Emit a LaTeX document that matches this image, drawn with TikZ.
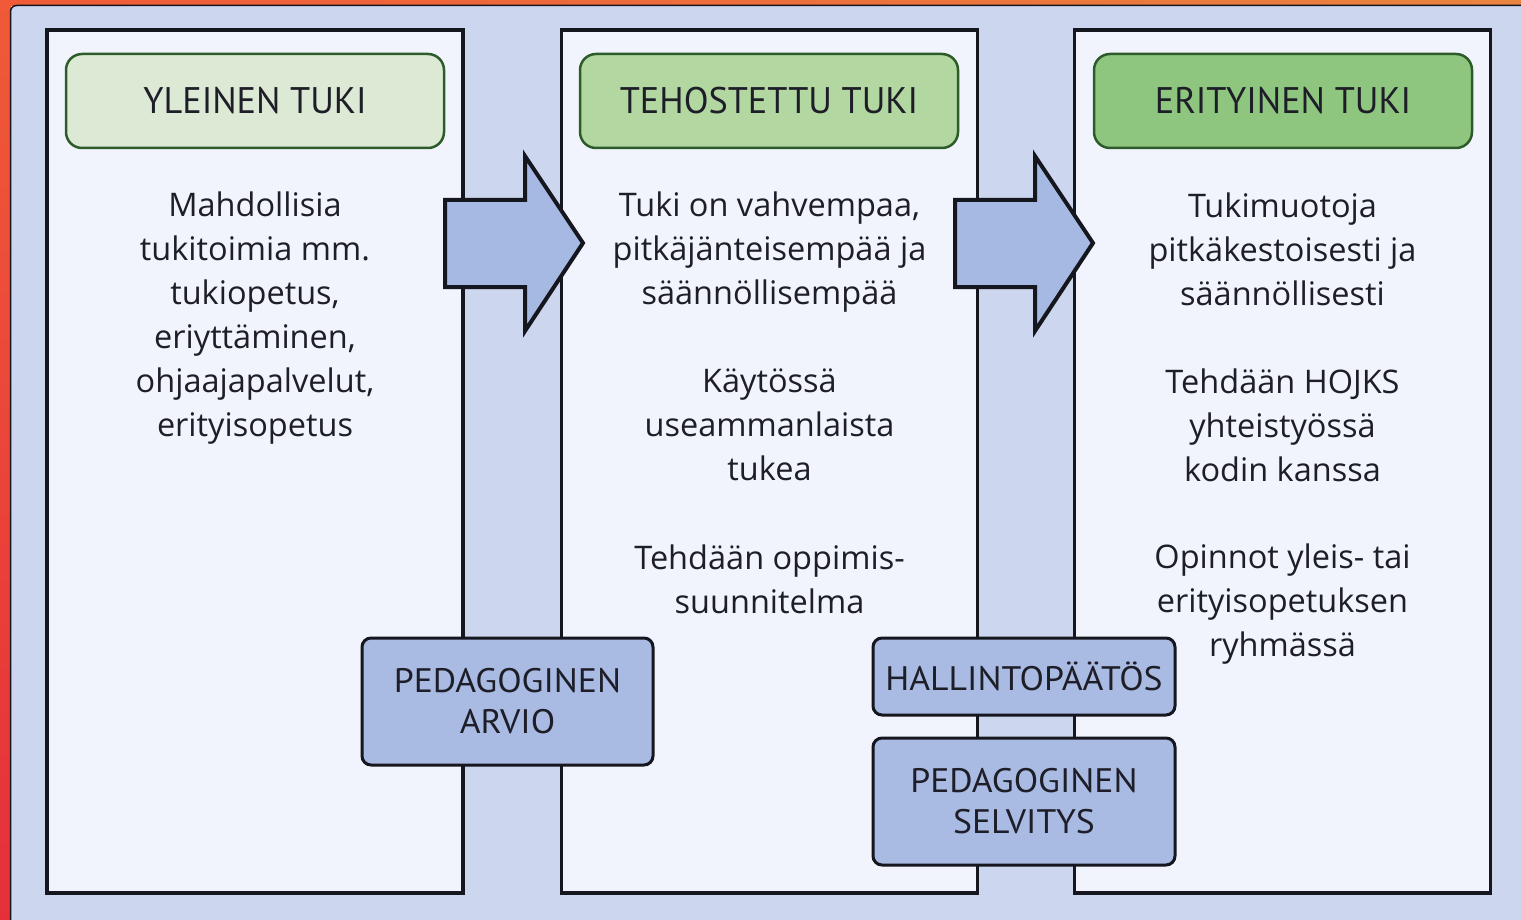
\documentclass[tikz,border=0pt]{standalone}
\usepackage{fontspec}
\setmainfont{Open Sans}
\newfontfamily\hdfont[FakeStretch=0.98]{PT Sans}
\newfontfamily\bxfont[FakeStretch=1.05]{PT Sans}
\definecolor{bgblue}{HTML}{CCD6EE}
\definecolor{panelfill}{HTML}{F1F4FC}
\definecolor{arrowfill}{HTML}{A6B9E2}
\definecolor{boxfill}{HTML}{A9BBE3}
\definecolor{gA}{HTML}{DCEAD5}
\definecolor{gB}{HTML}{B2D7A0}
\definecolor{gC}{HTML}{8EC57F}
\definecolor{gborder}{HTML}{2E5B2A}
\definecolor{ink}{HTML}{1E1E28}
\definecolor{edge}{HTML}{16161F}
\definecolor{stripA}{HTML}{F05A38}
\definecolor{stripB}{HTML}{E5303A}
\definecolor{stripC}{HTML}{E9843F}
\begin{document}
\begin{tikzpicture}[x=1pt,y=-1pt,
  panel/.style={draw=edge, fill=panelfill, line width=3.5pt, minimum width=416pt, minimum height=863pt, inner sep=0pt},
  hdr/.style={draw=gborder, line width=2.5pt, rounded corners=16pt, minimum width=378pt, minimum height=94pt, inner sep=0pt, text=ink, font=\hdfont\fontsize{37}{40}\selectfont},
  body/.style={align=center, inner sep=0pt, text=ink, font=\fontsize{32.5}{44}\selectfont},
  bbox/.style={draw=edge, fill=boxfill, line width=3pt, rounded corners=9pt, inner sep=0pt, align=center, text=ink, font=\bxfont\fontsize{34}{41}\selectfont},
  bigarrow/.style={draw=edge, fill=arrowfill, line width=4pt, line join=miter}
]
\useasboundingbox (0,0) rectangle (1521,920);
% outer border and background
\shade[left color=stripA, right color=stripC] (0,0) rectangle (1521,6);
\shade[top color=stripA, bottom color=stripB] (0,0) rectangle (11,920);
\draw[fill=bgblue, draw=edge, line width=1.5pt, rounded corners=6pt] (10.5,5.5) rectangle (1540,940);

% panels
\node[panel] (p1) at (255,461.5) {};
\node[panel] (p2) at (769.5,461.5) {};
\node[panel] (p3) at (1282.5,461.5) {};

% headers
\node[hdr, fill=gA] (h1) at (255,101) {YLEINEN TUKI};
\node[hdr, fill=gB] (h2) at (769,101) {TEHOSTETTU TUKI};
\node[hdr, fill=gC] (h3) at (1283,101) {ERITYINEN TUKI};

% arrows
\draw[bigarrow] (445,200) -- (525,200) -- (525,156) -- (583,243) -- (525,331) -- (525,287) -- (445,287) -- cycle;
\draw[bigarrow] (955,200) -- (1035,200) -- (1035,156) -- (1093,243) -- (1035,331) -- (1035,287) -- (955,287) -- cycle;

% body texts
\node[body] (t1) at (255,318) {Mahdollisia\\tukitoimia mm.\\tukiopetus,\\eriyttäminen,\\ohjaajapalvelut,\\erityisopetus};
\node[body] (t2a) at (769.5,252) {Tuki on vahvempaa,\\pitkäjänteisempää ja\\säännöllisempää};
\node[body] (t2b) at (769.5,425) {Käytössä\\useammanlaista\\tukea};
\node[body] (t2c) at (769.5,579) {Tehdään oppimis-\\suunnitelma};
\node[body] (t3a) at (1282.5,249) {Tukimuotoja\\pitkäkestoisesti ja\\säännöllisesti};
\node[body] (t3b) at (1282.5,425) {Tehdään HOJKS\\yhteistyössä\\kodin kanssa};
\node[body] (t3c) at (1282.5,604) {Opinnot yleis- tai\\erityisopetuksen\\ryhmässä};

% bottom boxes
\node[bbox, minimum width=291pt, minimum height=127pt] (pa) at (507.5,701.5) {PEDAGOGINEN\\ARVIO};
\node[bbox, minimum width=302pt, minimum height=77pt] (hp) at (1024,676.5) {HALLINTOPÄÄTÖS};
\node[bbox, minimum width=302pt, minimum height=127pt] (ps) at (1024,801.5) {PEDAGOGINEN\\SELVITYS};
\end{tikzpicture}
\end{document}
